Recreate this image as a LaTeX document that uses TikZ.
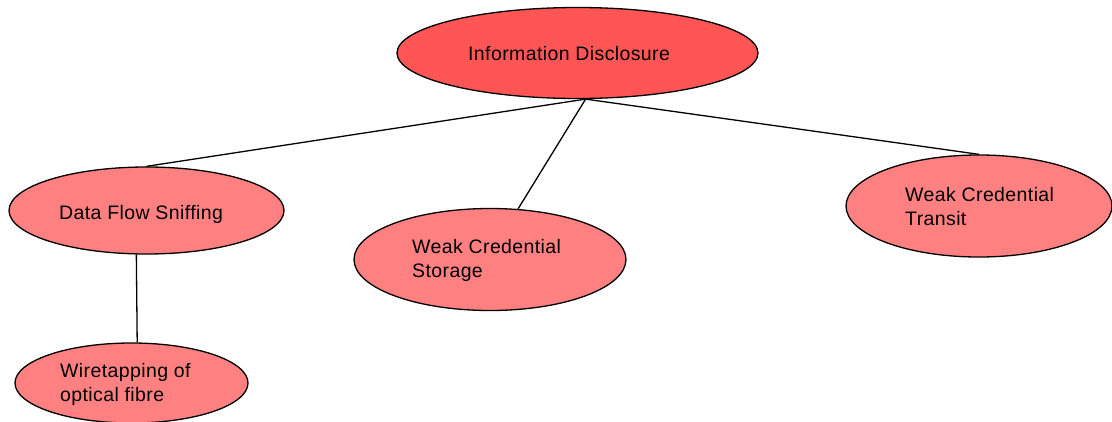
\documentclass[tikz,border=0pt]{standalone}
\usepackage{fontspec}
\setmainfont{Liberation Sans}[LetterSpace=2]
\usetikzlibrary{shapes.geometric}
\definecolor{rootfill}{RGB}{255,85,85}
\definecolor{leaffill}{RGB}{255,128,128}
\begin{document}
\begin{tikzpicture}[x=1pt,y=-1pt,
  oval/.style={ellipse,draw=black,line width=1.3pt,inner sep=0pt},
  lbl/.style={inner sep=0pt,align=left,font=\fontsize{19.5}{24}\selectfont},
  link/.style={draw=black,line width=1.3pt}]
\useasboundingbox (0,0) rectangle (1112,421);
\fill[white] (0,0) rectangle (1112,421);
% ellipses
\node[oval,fill=rootfill,minimum width=361pt,minimum height=91pt] (root) at (577.5,53) {};
\node[oval,fill=leaffill,minimum width=275pt,minimum height=87pt] (dfs) at (146.5,210.5) {};
\node[oval,fill=leaffill,minimum width=272pt,minimum height=102pt] (wcs) at (490,259.5) {};
\node[oval,fill=leaffill,minimum width=266pt,minimum height=102pt] (wct) at (979,206) {};
\node[oval,fill=leaffill,minimum width=233pt,minimum height=80pt] (wt) at (131.5,383) {};
% connectors
\draw[link] (root.-80.6) -- (dfs.north);
\draw[link] (root.-80.6) -- (wcs.61.6);
\draw[link] (root.-80.6) -- (wct.north);
\draw[link] (dfs.-103.6) -- (wt.82.2);
% labels
\node[lbl,anchor=base west] (trootl) at (468,60) {Information Disclosure};
\node[lbl,anchor=base west] (tdfs) at (59,219) {Data Flow Sniffing};
\node[lbl,anchor=west] (twcs) at (412,260) {Weak Credential\\Storage};
\node[lbl,anchor=west] (twct) at (905,207) {Weak Credential\\Transit};
\node[lbl,anchor=west] (twt) at (60,384) {Wiretapping of\\optical fibre};
\end{tikzpicture}
\end{document}
